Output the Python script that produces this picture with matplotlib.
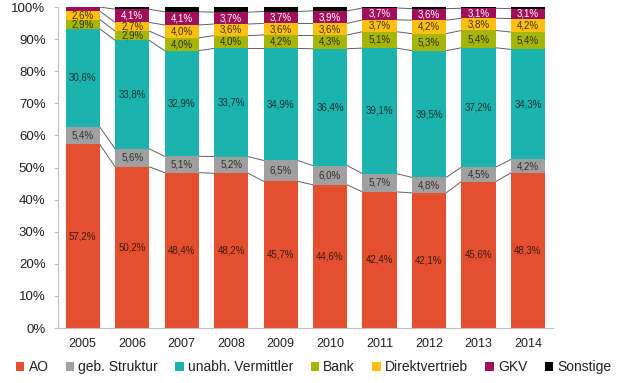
import numpy as np
import matplotlib
matplotlib.use('Agg')
import matplotlib.pyplot as plt

plt.rcParams['font.family'] = ['Liberation Sans', 'DejaVu Sans']

years = ['2005', '2006', '2007', '2008', '2009', '2010', '2011', '2012', '2013', '2014']
ao = [57.2, 50.2, 48.4, 48.2, 45.7, 44.6, 42.4, 42.1, 45.6, 48.3]
geb = [5.4, 5.6, 5.1, 5.2, 6.5, 6.0, 5.7, 4.8, 4.5, 4.2]
unabh = [30.6, 33.8, 32.9, 33.7, 34.9, 36.4, 39.1, 39.5, 37.2, 34.3]
bank = [2.9, 2.9, 4.0, 4.0, 4.2, 4.3, 5.1, 5.3, 5.4, 5.4]
direkt = [2.6, 2.7, 4.0, 3.6, 3.6, 3.6, 3.7, 4.2, 3.8, 4.2]
gkv = [1.3, 4.1, 4.1, 3.7, 3.7, 3.9, 3.7, 3.6, 3.1, 3.1]
sonst = [0.0, 0.7, 1.5, 1.6, 1.4, 1.2, 0.3, 0.5, 0.4, 0.5]

names = ['AO', 'geb. Struktur', 'unabh. Vermittler', 'Bank', 'Direktvertrieb', 'GKV', 'Sonstige']
series = [ao, geb, unabh, bank, direkt, gkv, sonst]
colors = ['#E4502F', '#A0A0A0', '#1BB3AE', '#A5B50A', '#FDC010', '#A0105A', '#000000']
label_colors = ['#3a1a10', '#303030', '#203030', '#303010', '#403010', 'white', 'white']
show_label = [True, True, True, True, True, True, False]

fig = plt.figure(figsize=(6.21, 3.83), dpi=100)
ax = fig.add_axes([0.0934, 0.1436, 0.7966, 0.8381])

x = np.arange(len(years))
w = 0.69
bottom = np.zeros(len(years))
for s, (vals, name, c) in enumerate(zip(series, names, colors)):
    vals = np.array(vals)
    ax.bar(x, vals, w, bottom=bottom, color=c, label=name, zorder=2)
    top = bottom + vals
    # series lines between bars
    if s < len(series) - 1:
        for i in range(len(years) - 1):
            ax.plot([x[i] + w / 2, x[i + 1] - w / 2], [top[i], top[i + 1]],
                    color='#606060', lw=0.7, zorder=1)
    if show_label[s]:
        for i in range(len(years)):
            if s == 5 and i == 0:
                continue
            ax.text(x[i], bottom[i] + vals[i] / 2,
                    ('%.1f%%' % vals[i]).replace('.', ','),
                    ha='center', va='center', fontsize=7, color=label_colors[s], zorder=3)
    bottom = top

ax.set_xlim(-0.5, len(years) - 0.5)
ax.set_ylim(0, 100)
ax.set_yticks(range(0, 101, 10))
ax.set_yticklabels(['%d%%' % v for v in range(0, 101, 10)])
ax.set_xticks(x)
ax.set_xticklabels(years)
for sp in ['top', 'right']:
    ax.spines[sp].set_visible(False)
ax.spines['left'].set_color('#c0c0c0')
ax.spines['bottom'].set_color('#c0c0c0')
ax.tick_params(axis='y', length=3, color='#c0c0c0', labelsize=9.5, pad=6, labelcolor='#202020')
ax.tick_params(axis='x', length=0, labelsize=9, pad=7, labelcolor='#202020')

fig.legend(loc='lower center', bbox_to_anchor=(0.505, -0.01), ncol=7, frameon=False,
           fontsize=10, handlelength=0.6, handleheight=0.6, handletextpad=0.3,
           columnspacing=1.25, labelcolor='#202020')

fig.savefig('out.png', dpi=100)
